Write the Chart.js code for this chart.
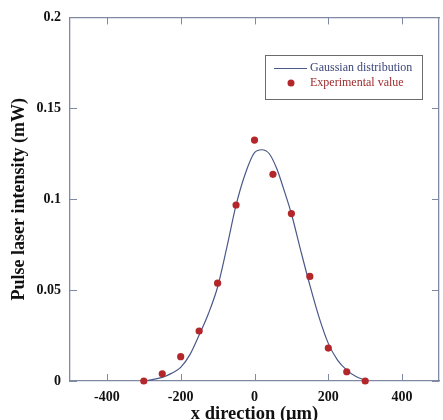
<!DOCTYPE html>
<html>
<head>
    <title>Pulse laser intensity</title>
    <script src="https://cdn.jsdelivr.net/npm/chart.js"></script>
    <style>
        html, body { margin: 0; padding: 0; background: #fff; overflow: hidden; }
    </style>
    <script>
        // measured points
        const expX = [-300, -250, -200, -150, -100, -50, 0, 50, 100, 150, 200, 250, 300];
        const expY = [0.0, 0.0040, 0.0134, 0.0275, 0.0538, 0.0968, 0.1325, 0.1137, 0.0921, 0.0575, 0.0181, 0.0051, 0.0];

        // fitted gaussian
        const fitX = [-290, -250, -225, -200, -175, -150, -125, -100, -75, -50, -25, 0, 20, 40, 60, 80, 100, 125, 150, 175, 200, 225, 250, 275, 300];
        const fitY = [0.0002, 0.0020, 0.0042, 0.0075, 0.0145, 0.0253, 0.0370, 0.0517, 0.0735, 0.0967, 0.1140, 0.1256, 0.1272, 0.1250, 0.1170, 0.1050, 0.0920, 0.0720, 0.0527, 0.0350, 0.0207, 0.0115, 0.0060, 0.0025, 0.0005];

        const xTicks = [-400, -200, 0, 200, 400];
        const yTicks = [0, 0.05, 0.1, 0.15, 0.2];

        const axisColor = '#7f89a3';
        const lineColor = '#4a5888';
        const dotColor = '#b3272b';
        const serif = "'Liberation Serif', 'Times New Roman', serif";

        const useTicks = values => scale => { scale.ticks = values.map(v => ({ value: v })); };

        // short tick marks pointing into the plot on all four sides
        const innerTicks = {
            id: 'innerTicks',
            afterDraw(chart) {
                const { ctx, chartArea: a, scales } = chart;
                const len = 7;
                ctx.save();
                ctx.strokeStyle = axisColor;
                ctx.lineWidth = 1;
                ctx.beginPath();
                xTicks.forEach(v => {
                    const px = Math.round(scales.x.getPixelForValue(v)) + 0.5;
                    ctx.moveTo(px, a.bottom); ctx.lineTo(px, a.bottom - len);
                    ctx.moveTo(px, a.top); ctx.lineTo(px, a.top + len);
                });
                yTicks.forEach(v => {
                    const py = Math.round(scales.y.getPixelForValue(v)) + 0.5;
                    ctx.moveTo(a.left, py); ctx.lineTo(a.left + len, py);
                    ctx.moveTo(a.right, py); ctx.lineTo(a.right - len, py);
                });
                ctx.stroke();
                ctx.restore();
            }
        };

        const boxLegend = {
            id: 'boxLegend',
            afterDraw(chart) {
                const { ctx } = chart;
                const ds = chart.data.datasets;
                const left = 265, top = 55, right = 422, bottom = 99;
                ctx.save();
                ctx.strokeStyle = '#6b6b6b';
                ctx.lineWidth = 1;
                ctx.strokeRect(left + 0.5, top + 0.5, right - left, bottom - top);
                ctx.font = '12px ' + serif;
                ctx.textBaseline = 'middle';
                // row 1: line
                ctx.strokeStyle = ds[0].borderColor;
                ctx.lineWidth = 1.2;
                ctx.beginPath();
                ctx.moveTo(274, 68.5); ctx.lineTo(307, 68.5);
                ctx.stroke();
                ctx.fillStyle = '#3b4676';
                ctx.fillText(ds[0].label, 310, 68);
                // row 2: dot
                ctx.fillStyle = ds[1].backgroundColor;
                ctx.beginPath();
                ctx.arc(291, 83, 3.5, 0, Math.PI * 2);
                ctx.fill();
                ctx.fillStyle = '#9e2a2c';
                ctx.fillText(ds[1].label, 310, 83);
                ctx.restore();
            }
        };

        document.addEventListener('DOMContentLoaded', function() {
            const ctx = document.getElementById('pulseChart').getContext('2d');
            new Chart(ctx, {
                type: 'scatter',
                data: {
                    datasets: [
                        {
                            label: 'Gaussian distribution',
                            type: 'line',
                            data: fitX.map((x, i) => ({ x: x, y: fitY[i] })),
                            borderColor: lineColor,
                            borderWidth: 1.2,
                            pointRadius: 0,
                            cubicInterpolationMode: 'monotone',
                            fill: false,
                            order: 2
                        },
                        {
                            label: 'Experimental value',
                            data: expX.map((x, i) => ({ x: x, y: expY[i] })),
                            backgroundColor: dotColor,
                            borderColor: dotColor,
                            pointRadius: 3.6,
                            borderWidth: 0,
                            clip: false,
                            order: 1
                        }
                    ]
                },
                options: {
                    responsive: false,
                    animation: false,
                    layout: { padding: 0 },
                    plugins: {
                        legend: { display: false },
                        tooltip: { enabled: false }
                    },
                    scales: {
                        x: {
                            type: 'linear',
                            position: 'bottom',
                            min: -500,
                            max: 500,
                            afterBuildTicks: useTicks(xTicks),
                            afterFit: s => { s.height = 49; },
                            grid: { drawOnChartArea: false, drawTicks: false },
                            border: { color: axisColor, width: 1.3 },
                            ticks: {
                                padding: 8,
                                color: '#111',
                                callback: v => String(v),
                                font: { family: serif, size: 14, weight: 'bold' }
                            },
                            title: {
                                display: true,
                                text: 'x direction (μm)',
                                color: '#111',
                                font: { family: serif, size: 18.5, weight: 'bold' },
                                padding: { top: 0, bottom: 5 }
                            }
                        },
                        x2: {
                            type: 'linear',
                            position: 'top',
                            min: -500,
                            max: 500,
                            afterBuildTicks: useTicks(xTicks),
                            afterFit: s => { s.height = 17; },
                            grid: { drawOnChartArea: false, drawTicks: false },
                            border: { color: axisColor, width: 1.3 },
                            ticks: { display: false }
                        },
                        y: {
                            type: 'linear',
                            position: 'left',
                            min: 0,
                            max: 0.2,
                            afterBuildTicks: useTicks(yTicks),
                            afterFit: s => { s.width = 70; },
                            grid: { drawOnChartArea: false, drawTicks: false },
                            border: { color: axisColor, width: 1.3 },
                            ticks: {
                                padding: 9,
                                color: '#111',
                                callback: v => String(v),
                                font: { family: serif, size: 14, weight: 'bold' }
                            },
                            title: {
                                display: true,
                                text: 'Pulse laser intensity (mW)',
                                color: '#111',
                                font: { family: serif, size: 18, weight: 'bold' },
                                padding: { top: 9, bottom: 0 }
                            }
                        },
                        y2: {
                            type: 'linear',
                            position: 'right',
                            min: 0,
                            max: 0.2,
                            afterBuildTicks: useTicks(yTicks),
                            afterFit: s => { s.width = 1; },
                            grid: { drawOnChartArea: false, drawTicks: false },
                            border: { color: axisColor, width: 1.3 },
                            ticks: { display: false }
                        }
                    }
                },
                plugins: [innerTicks, boxLegend]
            });
        });
    </script>
</head>
<body>
<canvas id="pulseChart" width="443" height="430"></canvas>
</body>
</html>
